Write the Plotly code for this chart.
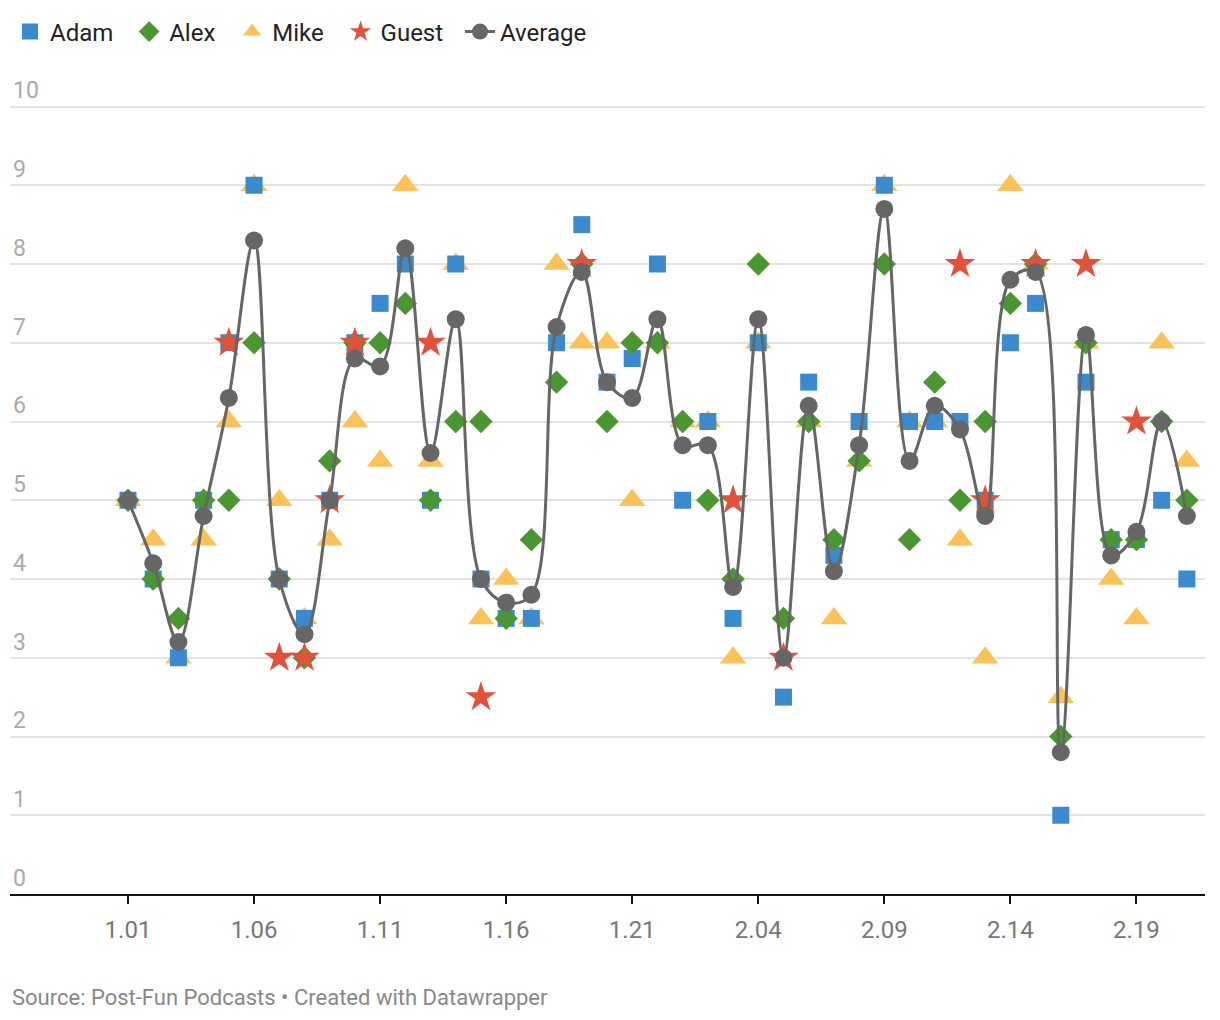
import plotly.graph_objects as go

episodes = (["1.%02d" % i for i in range(1, 23)] +
            ["2.%02d" % i for i in range(1, 22)])

adam = [5, 4, 3, 5, 7, 9, 4, 3.5, 5, 7, 7.5, 8, 5, 8, 4, 3.5, 3.5, 7, 8.5, 6.5, 6.8, 8,
        5, 6, 3.5, 7, 2.5, 6.5, 4.3, 6, 9, 6, 6, 6, 5, 7, 7.5, 1, 6.5, 4.5, 4.5, 5, 4]
alex = [5, 4, 3.5, 5, 5, 7, 4, 3, 5.5, 7, 7, 7.5, 5, 6, 6, 3.5, 4.5, 6.5, 8, 6, 7, 7,
        6, 5, 4, 8, 3.5, 6, 4.5, 5.5, 8, 4.5, 6.5, 5, 6, 7.5, 8, 2, 7, 4.5, 4.5, 6, 5]
mike = [5, 4.5, 3, 4.5, 6, 9, 5, 3.5, 4.5, 6, 5.5, 9, 5.5, 8, 3.5, 4, 3.5, 8, 7, 7, 5, 7,
        6, 6, 3, 7, None, 6, 3.5, 5.5, 9, 6, 6, 4.5, 3, 9, 8, 2.5, 7, 4, 3.5, 7, 5.5]
guest = [None, None, None, None, 7, None, 3, 3, 5, 7, None, None, 7, None, 2.5, None, None, None, 8, None, None, None,
         None, None, 5, None, 3, None, None, None, None, None, None, 8, 5, None, 8, None, 8, None, 6, None, None]
average = [5, 4.2, 3.2, 4.8, 6.3, 8.3, 4, 3.3, 5, 6.8, 6.7, 8.2, 5.6, 7.3, 4, 3.7, 3.8, 7.2, 7.9, 6.5, 6.3, 7.3,
           5.7, 5.7, 3.9, 7.3, 3, 6.2, 4.1, 5.7, 8.7, 5.5, 6.2, 5.9, 4.8, 7.8, 7.9, 1.8, 7.1, 4.3, 4.6, 6, 4.8]

tick_labels = ["1.01", "1.06", "1.11", "1.16", "1.21", "2.04", "2.09", "2.14", "2.19"]
y_ticks = list(range(0, 11))

FONT = "Roboto"
NB = "\u00a0"
TH = "\u2009"
fig = go.Figure()

fig.add_trace(go.Scatter(x=episodes, y=mike, mode="markers", name="Mike" + NB * 2,
                         marker=dict(symbol="triangle-up", size=23, color="#fcc25a", line=dict(width=0))))
fig.add_trace(go.Scatter(x=episodes, y=adam, mode="markers", name="Adam" + NB + TH,
                         marker=dict(symbol="square", size=17, color="#3b8ace", line=dict(width=0))))
fig.add_trace(go.Scatter(x=episodes, y=alex, mode="markers", name="Alex" + NB * 2,
                         marker=dict(symbol="diamond", size=18, color="#4a9630", line=dict(width=0))))
fig.add_trace(go.Scatter(x=episodes, y=guest, mode="markers", name="Guest" + NB * 2,
                         marker=dict(symbol="star", size=23, color="#e0523a", line=dict(width=0))))
fig.add_trace(go.Scatter(x=episodes, y=average, mode="lines+markers", name="Average",
                         line=dict(color="#666666", width=3, shape="spline", smoothing=1),
                         marker=dict(symbol="circle", size=18, color="#666666")))

fig.update_layout(
    width=1204, height=1004,
    margin=dict(l=2, r=7, t=67, b=118),
    paper_bgcolor="white", plot_bgcolor="white",
    font=dict(family=FONT, color="#222222"),
    showlegend=True,
    legend=dict(orientation="h", x=0, xanchor="left", y=1.0525, yanchor="middle",
                font=dict(size=24, family=FONT, color="#222222"),
                traceorder="normal", itemsizing="trace", itemclick=False),
    xaxis=dict(type="category", categoryorder="array", categoryarray=episodes,
               range=[-4.68, 42.72], tickmode="array", tickvals=tick_labels, ticktext=tick_labels,
               showgrid=False, showline=True, linecolor="#111111", linewidth=2,
               ticks="outside", ticklen=8, tickwidth=2, tickcolor="#111111",
               ticklabelstandoff=5,
               tickfont=dict(size=24, family=FONT, color="#777777"), zeroline=False),
    yaxis=dict(range=[0, 10.4], tickmode="array", tickvals=y_ticks,
               showgrid=True, gridcolor="#e3e3e3", gridwidth=2, zeroline=False,
               ticklabelposition="inside top", ticks="",
               tickfont=dict(size=23, family=FONT, color="#aaaaaa")),
    annotations=[dict(text="Source: Post-Fun Podcasts • Created with Datawrapper",
                      xref="paper", yref="paper", x=0, y=-0.1258, xanchor="left", yanchor="middle",
                      showarrow=False, font=dict(size=22, family=FONT, color="#888888"))],
)

order = {"Adam": 1, "Alex": 2, "Mike": 3, "Guest": 4, "Average": 5}
for tr in fig.data:
    tr.legendrank = order[tr.name.strip("\u00a0\u2009")]

fig.write_html("out.html")
